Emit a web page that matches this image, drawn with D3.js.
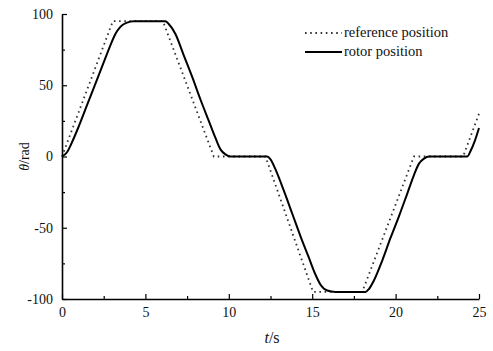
<!DOCTYPE html>
<html>
<head>
<meta charset="utf-8">
<script src="https://cdn.jsdelivr.net/npm/d3@7"></script>
<style>
  html, body { margin: 0; padding: 0; background: #fff; }
  svg { display: block; }
  text { font-family: "Liberation Serif", "Times New Roman", serif; fill: #111; }
</style>
</head>
<body>
<svg id="chart" width="493" height="351"></svg>
<script>
// Time axis (s) and angular position (rad)
const refTime = [0, 3.05, 6.05, 9.1, 12.2, 15.05, 18.0, 21.1, 24.05, 25];
const refPosition = [0, 95, 95, 0, 0, -95, -95, 0, 0, 30];

const rotorTime = [0, 0.3, 0.6, 1.0, 1.5, 2.0, 2.5, 2.9, 3.2, 3.5, 3.9, 4.3,
  6.2, 6.4, 6.8, 7.3, 7.8, 8.3, 8.8, 9.2, 9.5, 9.8, 10.1,
  12.3, 12.5, 12.8, 13.3, 13.8, 14.3, 14.8, 15.2, 15.5, 15.9, 16.4,
  18.2, 18.4, 18.7, 19.2, 19.7, 20.2, 20.7, 21.1, 21.4, 21.7, 22.0,
  24.3, 24.5, 24.75, 25];
const rotorPosition = [0, 3, 10, 21, 36, 51, 66, 78, 86, 91, 94, 95,
  95, 93, 86, 71, 56, 40, 25, 13, 5, 1.5, 0,
  0, -2, -9, -24, -40, -56, -71, -83, -90, -94, -95,
  -95, -93, -87, -73, -57, -42, -26, -13, -5, -1.5, 0,
  0, 4, 11, 20];

const xTicks = [0, 5, 10, 15, 20, 25];
const xMinorTicks = [2.5, 7.5, 12.5, 17.5, 22.5];
const yTicks = [-100, -50, 0, 50, 100];
const yMinorTicks = [-75, -25, 25, 75];

const legendLabels = ["reference position", "rotor position"];

const serif = '"Liberation Serif", "Times New Roman", serif';
const svg = d3.select("#chart");
const margin = { left: 62, right: 14, top: 14, bottom: 52 };
const W = 493, H = 351;

const x = d3.scaleLinear().domain([0, 25]).range([margin.left, W - margin.right]);
const y = d3.scaleLinear().domain([-100, 100]).range([H - margin.bottom, margin.top]);

// Curves
const refData = refTime.map((t, i) => [t, refPosition[i]]);
const rotorData = rotorTime.map((t, i) => [t, rotorPosition[i]]);

const refLine = d3.line().x(d => x(d[0])).y(d => y(d[1]));
const rotorLine = d3.line().x(d => x(d[0])).y(d => y(d[1])).curve(d3.curveMonotoneX);

svg.append("path")
  .datum(refData)
  .attr("d", refLine)
  .attr("fill", "none")
  .attr("stroke", "#333")
  .attr("stroke-width", 1.8)
  .attr("stroke-dasharray", "1.6,3.6");

svg.append("path")
  .datum(rotorData)
  .attr("d", rotorLine)
  .attr("fill", "none")
  .attr("stroke", "#000")
  .attr("stroke-width", 2);

// Plain hyphen for negative labels
const plain = d => String(d);

// Axes with inward ticks
svg.append("g")
  .attr("transform", `translate(${margin.left},0)`)
  .call(d3.axisLeft(y).tickValues(yTicks).tickFormat(plain).tickSize(-5).tickSizeOuter(0).tickPadding(9));
svg.append("g")
  .attr("transform", `translate(${margin.left},0)`)
  .call(d3.axisLeft(y).tickValues(yMinorTicks).tickSize(-3).tickSizeOuter(0).tickFormat(""))
  .select(".domain").remove();

svg.append("g")
  .attr("transform", `translate(0,${H - margin.bottom})`)
  .call(d3.axisBottom(x).tickValues(xTicks).tickFormat(plain).tickSize(-5).tickSizeOuter(0).tickPadding(8));
svg.append("g")
  .attr("transform", `translate(0,${H - margin.bottom})`)
  .call(d3.axisBottom(x).tickValues(xMinorTicks).tickSize(-3).tickSizeOuter(0).tickFormat(""))
  .select(".domain").remove();

svg.selectAll("g").attr("font-family", serif).attr("font-size", 14);
svg.selectAll(".domain").attr("stroke", "#000").attr("stroke-width", 1.6);
svg.selectAll(".tick line").attr("stroke", "#000").attr("stroke-width", 1.2);
svg.selectAll(".tick text")
  .style("font-family", serif)
  .style("font-size", "14px")
  .attr("fill", "#111");

// Axis titles
const yTitle = svg.append("text")
  .attr("transform", `translate(29,${y(0)}) rotate(-90)`)
  .attr("text-anchor", "middle")
  .style("font-size", "14px");
yTitle.append("tspan").style("font-style", "italic").text("θ");
yTitle.append("tspan").text("/rad");

const xTitle = svg.append("text")
  .attr("x", 272)
  .attr("y", 343)
  .attr("text-anchor", "middle")
  .style("font-size", "16px");
xTitle.append("tspan").style("font-style", "italic").text("t");
xTitle.append("tspan").text("/s");

// Legend
const legend = svg.append("g");
legendLabels.forEach((label, i) => {
  const ly = 33 + i * 19;
  legend.append("line")
    .attr("x1", 305).attr("x2", 342)
    .attr("y1", ly).attr("y2", ly)
    .attr("stroke", i === 0 ? "#333" : "#000")
    .attr("stroke-width", i === 0 ? 1.8 : 2)
    .attr("stroke-dasharray", i === 0 ? "1.6,3.6" : null);
  legend.append("text")
    .attr("x", 344)
    .attr("y", ly + 4)
    .style("font-family", serif)
    .style("font-size", "14.5px")
    .text(label);
});
</script>
</body>
</html>
